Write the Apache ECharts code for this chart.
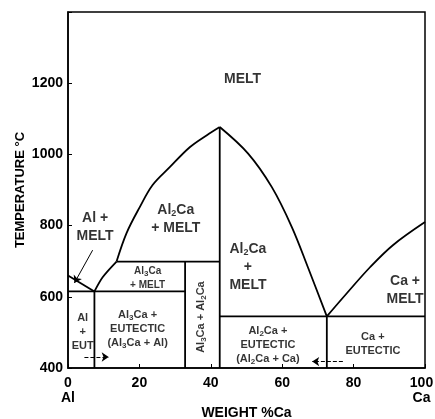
<!DOCTYPE html>
<html><head><meta charset="utf-8">
<script src="https://cdn.jsdelivr.net/npm/echarts@6/dist/echarts.min.js"></script>
<style>html,body{margin:0;padding:0;background:#fff}#c{width:435px;height:419px}</style>
</head><body><div id="c"></div>
<script>
// ---- data (weight % Ca, temperature °C) ----
const xTicks = [0, 20, 40, 60, 80, 100];
const yTicks = [400, 600, 800, 1000, 1200];
const alLiquidus = [[0, 660], [7.4, 615]];
const al3caLiquidus = [[7.4, 615], [9.7, 655], [13.6, 699]];
const al2caLiquidusLeft = [[13.6, 699], [16.4, 779], [20.1, 852], [23.7, 914], [28.5, 964], [34.1, 1020], [38.9, 1054], [42.5, 1077]];
const al2caLiquidusRight = [[42.5, 1077], [50.4, 1003], [57.1, 908], [62.7, 796], [67.2, 683], [72.5, 545]];
const caLiquidus = [[72.5, 545], [78.1, 610], [84.6, 683], [91.0, 745], [100, 810]];
const alEutecticLine = [[0, 615], [32.8, 615]];
const peritecticLine = [[13.6, 699], [42.5, 699]];
const caEutecticLine = [[42.5, 545], [100, 545]];
const eutecticVertical = [[7.4, 615], [7.4, 400]];
const al3caVertical = [[32.8, 699], [32.8, 400]];
const al2caVertical = [[42.5, 1077], [42.5, 400]];
const caEutVertical = [[72.5, 545], [72.5, 400]];
// region labels: [x, T, text, size, rotate]
const regionLabels = [
  [48.9, 1211, 'MELT', 14, 0],
  [7.6, 796, 'Al +\nMELT', 14, 0],
  [30.2, 818, 'Al{s|2}Ca\n+ MELT', 14, 0],
  [22.3, 653, 'Al{t|3}Ca\n+ MELT', 10, 0],
  [37.2, 543, 'Al{t|3}Ca + Al{t|2}Ca', 11, 90],
  [50.4, 683, 'Al{s|2}Ca\n+\nMELT', 14, 0],
  [94.4, 619, 'Ca +\nMELT', 14, 0],
  [4.1, 501, 'Al\n+\nEUT', 11, 0],
  [19.5, 509, 'Al{t|3}Ca +\nEUTECTIC\n(Al{t|3}Ca + Al)', 11, 0],
  [56.0, 465, 'Al{t|2}Ca +\nEUTECTIC\n(Al{t|2}Ca + Ca)', 11, 0],
  [85.4, 467, 'Ca +\nEUTECTIC', 11, 0]
];
// pointer arrows: [from, to, dashed]
const pointers = [
  [[6.9, 731], [1.8, 639], false],
  [[4.6, 431], [11.4, 431], true],
  [[77.0, 418], [68.4, 418], true]
];

const FONT = '"Liberation Sans", Arial, sans-serif';
const INK = '#000';
const W = 'bold';
function lineSeries(d, smooth) {
  return { type: 'line', data: d, symbol: 'none', silent: true, smooth: smooth || false,
    lineStyle: { color: INK, width: 1.8 }, z: 3, animation: false };
}
const series = [
  lineSeries(alLiquidus), lineSeries(al3caLiquidus, 0.3), lineSeries(al2caLiquidusLeft, 0.35),
  lineSeries(al2caLiquidusRight, 0.35), lineSeries(caLiquidus, 0.35),
  lineSeries(alEutecticLine), lineSeries(peritecticLine), lineSeries(caEutecticLine),
  lineSeries(eutecticVertical), lineSeries(al3caVertical), lineSeries(al2caVertical), lineSeries(caEutVertical)
];
series.push({
  type: 'scatter', symbolSize: 0, silent: true, animation: false, z: 5,
  data: regionLabels.map(l => ({
    value: [l[0], l[1]],
    label: {
      show: true, position: 'inside', formatter: l[2], fontSize: l[3], rotate: l[4], fontWeight: W,
      lineHeight: l[3] === 14 ? 18 : 14, color: INK, fontFamily: FONT,
      rich: {
        s: { fontSize: 9, fontWeight: W, fontFamily: FONT, color: INK, padding: [7, 0, 0, 0] },
        t: { fontSize: 8, fontWeight: W, fontFamily: FONT, color: INK, padding: [5, 0, 0, 0] }
      }
    }
  }))
});
series.push({
  type: 'line', data: [], silent: true, animation: false,
  markLine: {
    silent: true, symbol: ['none', 'arrow'], symbolSize: 7, animation: false, label: { show: false },
    data: pointers.map(p => [
      { coord: p[0], lineStyle: { color: INK, width: 1, type: p[2] ? 'dashed' : 'solid' } },
      { coord: p[1] }
    ])
  }
});

const chart = echarts.init(document.getElementById('c'), null, { renderer: 'canvas' });
chart.setOption({
  animation: false,
  backgroundColor: '#fff',
  grid: { left: 68, right: 10, top: 12, bottom: 51, show: true, borderColor: INK, borderWidth: 1.5,
    containLabel: false, outerBoundsMode: 'none' },
  xAxis: {
    type: 'value', min: 0, max: 100, interval: 20,
    name: 'WEIGHT %Ca', nameLocation: 'middle', nameGap: 38, nameMoveOverlap: false,
    nameTextStyle: { fontSize: 14, color: INK, fontFamily: FONT, fontWeight: W },
    axisLine: { lineStyle: { color: INK, width: 1.5 } },
    axisTick: { inside: true, length: 4, lineStyle: { color: INK } },
    splitLine: { show: false },
    axisLabel: { margin: 8, fontSize: 14, color: INK, fontFamily: FONT, fontWeight: W, lineHeight: 15,
      rich: { r: { fontSize: 14, fontWeight: W, fontFamily: FONT, color: INK, lineHeight: 15, padding: [0, 7, 0, 0] } },
      formatter: v => xTicks.includes(v) ? (v === 0 ? '0\nAl' : v === 100 ? '{r|100}\n{r|Ca}' : String(v)) : '' }
  },
  yAxis: {
    type: 'value', min: 400, max: 1400, interval: 200,
    name: 'TEMPERATURE °C', nameLocation: 'middle', nameGap: 41, nameRotate: 90, nameMoveOverlap: false,
    nameTextStyle: { fontSize: 13, color: INK, fontFamily: FONT, fontWeight: W },
    axisLine: { lineStyle: { color: INK, width: 1.5 } },
    axisTick: { inside: true, length: 4, lineStyle: { color: INK } },
    splitLine: { show: false },
    axisLabel: { margin: 5, fontSize: 14, color: INK, fontFamily: FONT, fontWeight: W,
      formatter: v => yTicks.includes(v) ? String(v) : '' }
  },
  series: series
});
</script></body></html>
